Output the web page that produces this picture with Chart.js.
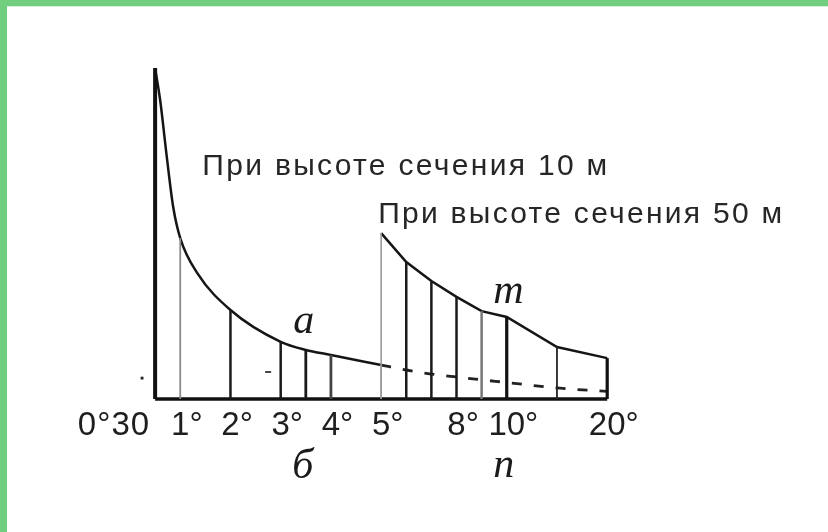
<!DOCTYPE html>
<html><head><meta charset="utf-8">
<script src="https://cdn.jsdelivr.net/npm/chart.js@4"></script>
<style>html,body{margin:0;padding:0;background:#fff;overflow:hidden}canvas{display:block}</style>
</head><body><canvas id="c" width="828" height="532"></canvas>
<script>
// Slope scale (шкала заложений): horizontal laying (m) vs slope angle
const tickPositions = [0.5, 1, 2, 3, 4, 5, 6.5, 7.5, 9.5];
const tickLabels = ['0°30', '1°', '2°', '3°', '4°', '5°', '8°', '10°', '20°'];

// section height 10 m (left part)
const leftPos = [0.5, 1, 2, 3, 3.5, 4, 5];
const leftLaying = [1141, 555, 307, 197, 169, 152, 117];
const leftCurvePos = [0.5, 0.6, 0.74, 0.86, 1, 1.34, 2, 3, 3.5, 4, 5];
const leftCurveLaying = [1141, 1031, 824, 662, 555, 434, 307, 197, 169, 152, 117];

// section height 50 m (right part), slopes 5°,6°,7°,8°,9°,10°,15°,20°
const rightPos = [5, 5.5, 6, 6.5, 7, 7.5, 8.5, 9.5];
const rightLaying = [572, 472, 407, 352, 303, 283, 179, 141];
// dashed continuation of 10 m curve
const dashLaying = [117, 100, 86, 76, 66, 57, 38, 26];

const headings = ['При высоте сечения 10 м', 'При высоте сечения 50 м'];
const curveLetters = ['а', 'т'];
const scaleLetters = ['б', 'п'];

// styles (kept separate from data)
const leftLineStyle = [[4,'#111'],[1.8,'#8a8a8a'],[2.5,'#1a1a1a'],[2.5,'#1a1a1a'],[2.8,'#1a1a1a'],[2.8,'#444'],[1.6,'#9a9a9a']];
const rightLineStyle = [[1.6,'#9a9a9a'],[2.5,'#1a1a1a'],[2.5,'#1a1a1a'],[2.5,'#1a1a1a'],[2.5,'#777'],[3.2,'#111'],[1.8,'#222'],[3.2,'#111']];

const datasets = [];
function vline(x, y, st){
  datasets.push({data:[{x:x,y:0},{x:x,y:y}], borderColor:st[1], borderWidth:st[0], pointRadius:0, clip:false, borderCapStyle:'butt'});
}
leftPos.forEach((p,i)=>vline(p, leftLaying[i], leftLineStyle[i]));
rightPos.forEach((p,i)=>vline(p, rightLaying[i], rightLineStyle[i]));

datasets.push({data:leftCurvePos.map((p,i)=>({x:p,y:leftCurveLaying[i]})), borderColor:'#151515', borderWidth:2.5, pointRadius:0, cubicInterpolationMode:'monotone', clip:false});
datasets.push({data:rightPos.map((p,i)=>({x:p,y:rightLaying[i]})), borderColor:'#151515', borderWidth:2.5, pointRadius:0, tension:0, clip:false});
datasets.push({data:rightPos.map((p,i)=>({x:p,y:dashLaying[i]})), borderColor:'#222', borderWidth:2.8, borderDash:[10,12], pointRadius:0, cubicInterpolationMode:'monotone', clip:false});
datasets.push({data:[{x:leftPos[0],y:0},{x:rightPos[rightPos.length-1],y:0}], borderColor:'#111', borderWidth:3.5, pointRadius:0, clip:false});
// small stray marks
datasets.push({data:[{x:0.24,y:72}], showLine:false, pointStyle:'rect', pointRadius:2, backgroundColor:'#222', borderWidth:0, clip:false});
datasets.push({data:[{x:2.75,y:93}], showLine:false, pointStyle:'line', pointRadius:3, borderColor:'#444', borderWidth:2, clip:false});

function fitText(ctx, text, x, y, w){
  ctx.letterSpacing = '0px';
  const m = ctx.measureText(text).width;
  const ls = (w - m) / (text.length - 1);
  ctx.letterSpacing = ls.toFixed(2) + 'px';
  ctx.fillText(text, x, y);
  ctx.letterSpacing = '0px';
}

const annot = {
  id:'annot',
  beforeDraw(chart){
    const c = chart.ctx; c.save();
    c.fillStyle = '#fff'; c.fillRect(0,0,chart.width,chart.height);
    c.fillStyle = '#70ce7e'; c.fillRect(0,0,chart.width,6); c.fillRect(0,0,7,chart.height);
    c.fillStyle = '#d6f3da'; c.fillRect(7,6,chart.width,1);
    c.restore();
  },
  afterDatasetsDraw(chart){
    const c = chart.ctx, xs = chart.scales.x, ys = chart.scales.y;
    c.save();
    c.fillStyle = '#1e1e1e';
    c.textBaseline = 'alphabetic';
    // tick labels
    c.font = '33px "Liberation Sans", Arial, sans-serif';
    tickLabels.forEach((t,i)=>{
      const px = xs.getPixelForValue(tickPositions[i]);
      const by = ys.getPixelForValue(0) + 36;
      if (i === 0) { c.textAlign = 'right'; c.letterSpacing='1px'; c.fillText(t, px - 5, by); c.letterSpacing='0px'; }
      else {
        c.textAlign = 'left';
        const dw = c.measureText(t.replace('°','')).width;
        c.fillText(t, px - dw/2, by);
      }
    });
    // headings
    c.textAlign = 'left';
    c.fillStyle = '#262626';
    c.font = '30px "Liberation Sans", Arial, sans-serif';
    fitText(c, headings[0], xs.getPixelForValue(1.44), ys.getPixelForValue(772), 405);
    fitText(c, headings[1], xs.getPixelForValue(4.94), ys.getPixelForValue(607), 404);
    // italic letters
    c.fillStyle = '#1a1a1a';
    c.font = 'italic 42px "Liberation Serif", "DejaVu Serif", serif';
    c.fillText(curveLetters[0], xs.getPixelForValue(3.25), ys.getPixelForValue(228));
    c.fillText(curveLetters[1], xs.getPixelForValue(7.23), ys.getPixelForValue(331));
    c.fillText(scaleLetters[0], xs.getPixelForValue(3.23), ys.getPixelForValue(-272));
    c.fillText(scaleLetters[1], xs.getPixelForValue(7.23), ys.getPixelForValue(-269));
    c.restore();
  }
};

new Chart(document.getElementById('c'), {
  type:'line',
  data:{datasets},
  options:{
    responsive:false, animation:false, devicePixelRatio:1,
    layout:{padding:{left:130, right:45, top:22, bottom:133}},
    scales:{
      x:{type:'linear', min:0, max:13, display:false},
      y:{type:'linear', min:0, max:1300, display:false}
    },
    plugins:{legend:{display:false}, tooltip:{enabled:false}},
    elements:{line:{tension:0}}
  },
  plugins:[annot]
});
</script></body></html>
